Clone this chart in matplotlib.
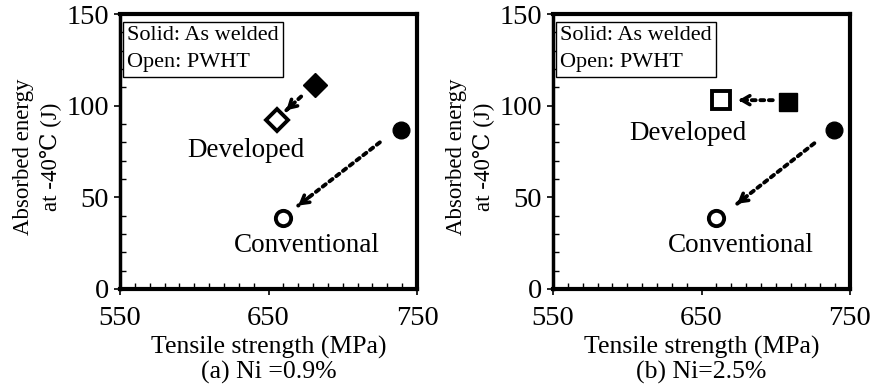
import matplotlib
matplotlib.use("Agg")
import matplotlib.pyplot as plt
from matplotlib.ticker import MultipleLocator, FixedLocator

plt.rcParams['font.family'] = ['Liberation Serif', 'DejaVu Serif']
plt.rcParams['mathtext.fontset'] = 'stix'

# Panel (a) Ni = 0.9%
a_dev_aw = (681, 111)     # filled diamond
a_dev_pw = (656, 92)      # open diamond
a_con_aw = (739, 87)      # filled circle
a_con_pw = (660, 39)      # open circle

# Panel (b) Ni = 2.5%
b_dev_aw = (708, 102)     # filled square
b_dev_pw = (663, 103)     # open square
b_con_aw = (739, 87)      # filled circle
b_con_pw = (660, 39)      # open circle

xlabel = "Tensile strength (MPa)"
ylabel = "Absorbed energy\nat -40\u2103 (J)"
captions = ["(a) Ni =0.9%", "(b) Ni=2.5%"]
xticks = [550, 650, 750]
yticks = [0, 50, 100, 150]

W, H = 872, 387
fig = plt.figure(figsize=(W/100, H/100), dpi=100)

def px_axes(l, r, t, b):
    return fig.add_axes([l/W, 1-b/H, (r-l)/W, (b-t)/H])

axes = [px_axes(120, 417, 14, 289), px_axes(553, 850, 14, 289)]

def arrow(ax, start, end):
    # dotted shaft
    ax.annotate("", xy=end, xytext=start,
                arrowprops=dict(arrowstyle='-', linestyle=(0, (1, 1.2)), lw=2.8,
                                color='black', shrinkA=0, shrinkB=0))
    # solid head
    dx = end[0]-start[0]; dy = end[1]-start[1]
    f = 0.12
    ax.annotate("", xy=end, xytext=(end[0]-dx*f, end[1]-dy*f),
                arrowprops=dict(arrowstyle='->,head_length=0.55,head_width=0.32', lw=2.6,
                                color='black', shrinkA=0, shrinkB=0))

def setup(ax, caption):
    ax.set_xlim(550, 750)
    ax.set_ylim(0, 150)
    ax.xaxis.set_major_locator(FixedLocator(xticks))
    ax.yaxis.set_major_locator(FixedLocator(yticks))
    ax.xaxis.set_minor_locator(MultipleLocator(10))
    ax.yaxis.set_minor_locator(MultipleLocator(10))
    ax.tick_params(which='major', direction='out', length=4, width=1.2, labelsize=20.5)
    ax.tick_params(axis='x', which='major', pad=8)
    ax.tick_params(axis='y', which='major', pad=4)
    ax.tick_params(which='minor', direction='in', length=4, width=1)
    for s in ax.spines.values():
        s.set_linewidth(3)
    ax.spines['left'].set_linewidth(2.5)
    ax.set_xlabel(xlabel + "\n" + caption, fontsize=18.5, linespacing=1.1, labelpad=4)
    ax.set_ylabel(ylabel, fontsize=16.5, linespacing=1.3, ha='center')
    ax.yaxis.set_label_coords(-0.20, 0.48)
    ax.text(0.025, 0.955, "Solid: As welded\nOpen: PWHT", transform=ax.transAxes,
            fontsize=16, va='top', ha='left', linespacing=1.55,
            bbox=dict(boxstyle='square,pad=0.2', fc='white', ec='black', lw=1))

ax = axes[0]
setup(ax, captions[0])
arrow(ax, (672, 105), (662, 97.5))
arrow(ax, (725, 80), (670, 45.5))
ax.plot(*a_dev_aw, marker='D', ms=12, color='black', ls='none')
ax.plot(*a_dev_pw, marker='D', ms=11, mfc='white', mec='black', mew=2.8, ls='none')
ax.plot(*a_con_aw, marker='o', ms=12, color='black', ls='none')
ax.plot(*a_con_pw, marker='o', ms=11, mfc='white', mec='black', mew=2.8, ls='none')
ax.text(635, 75.5, "Developed", fontsize=19.5, ha='center', va='center')
ax.text(676, 24, "Conventional", fontsize=19.5, ha='center', va='center')

ax = axes[1]
setup(ax, captions[1])
arrow(ax, (698, 103), (675, 103))
arrow(ax, (726, 79.5), (674, 46.5))
ax.plot(*b_dev_aw, marker='s', ms=13.5, color='black', ls='none')
ax.plot(*b_dev_pw, marker='s', ms=13.5, mfc='white', mec='black', mew=2.8, ls='none')
ax.plot(*b_con_aw, marker='o', ms=12, color='black', ls='none')
ax.plot(*b_con_pw, marker='o', ms=11, mfc='white', mec='black', mew=2.8, ls='none')
ax.text(641, 85, "Developed", fontsize=19.5, ha='center', va='center')
ax.text(676.5, 24, "Conventional", fontsize=19.5, ha='center', va='center')

fig.savefig("out.png", dpi=100)
